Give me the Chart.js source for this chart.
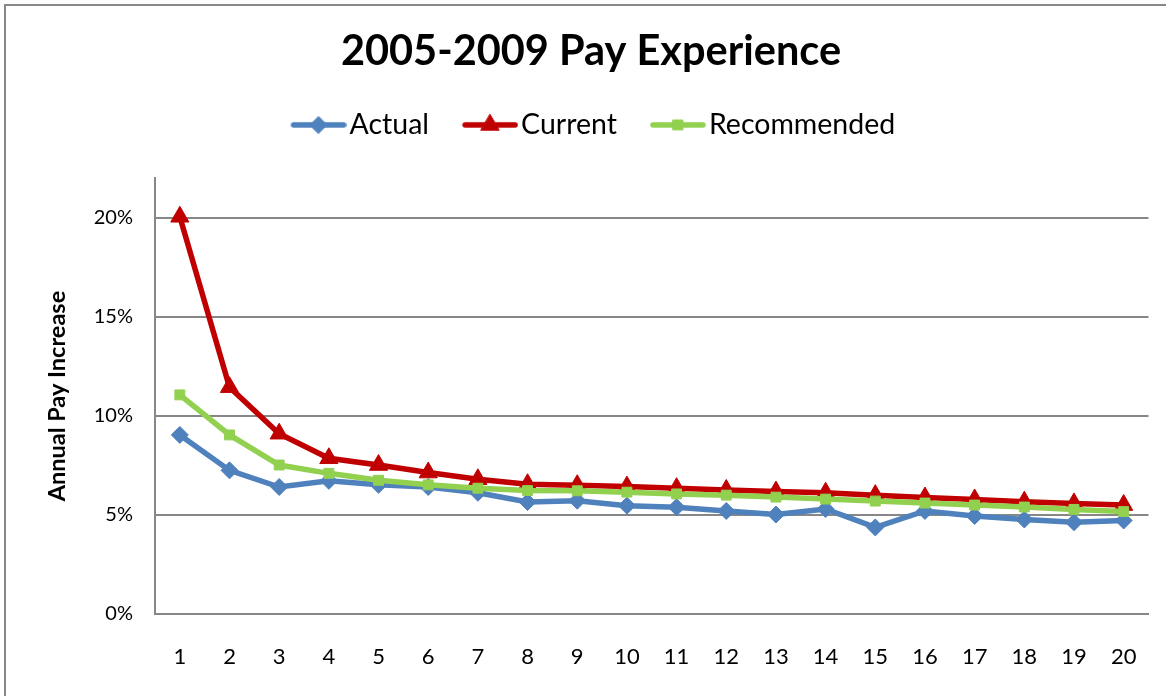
<!DOCTYPE html>
<html>
<head>
<meta charset="utf-8">
<title>2005-2009 Pay Experience</title>
<script src="https://cdn.jsdelivr.net/npm/chart.js"></script>
<style>
  html, body { margin: 0; padding: 0; background: #fff; overflow: hidden; }
  #frame { position: absolute; left: 4px; top: 4px; width: 1200px; height: 800px; border: 2px solid #888; }
  #chart { position: absolute; left: 6px; top: 6px; }
</style>
</head>
<body>
<div id="frame"></div>
<canvas id="chart" width="1154" height="690"></canvas>
<script>
  const years = ['1','2','3','4','5','6','7','8','9','10','11','12','13','14','15','16','17','18','19','20'];
  const actual = [9.04, 7.25, 6.41, 6.72, 6.52, 6.41, 6.12, 5.65, 5.72, 5.47, 5.39, 5.2, 5.02, 5.3, 4.37, 5.2, 4.95, 4.77, 4.63, 4.72];
  const current = [20.05, 11.45, 9.1, 7.86, 7.52, 7.14, 6.8, 6.55, 6.5, 6.43, 6.35, 6.26, 6.18, 6.12, 6.0, 5.88, 5.78, 5.67, 5.58, 5.5];
  const recommended = [11.06, 9.04, 7.52, 7.1, 6.75, 6.52, 6.35, 6.23, 6.22, 6.15, 6.06, 6.0, 5.9, 5.8, 5.7, 5.6, 5.5, 5.4, 5.28, 5.17];
  const yTicks = [0, 5, 10, 15, 20];

  const BLUE = '#4F81BD', RED = '#C00000', GREEN = '#92D050', GRID = '#878787';
  const FONT = 'Lato';

  // legend sample: line with the marker in the middle, left margin gives the gap between items
  function legendIcon(color, style, radius, bw) {
    const c = document.createElement('canvas');
    c.width = 71; c.height = 26;
    const g = c.getContext('2d');
    g.strokeStyle = color; g.lineWidth = 5.5; g.lineCap = 'round';
    g.beginPath(); g.moveTo(18, 13); g.lineTo(68, 13); g.stroke();
    g.fillStyle = color; g.strokeStyle = color; g.lineWidth = bw;
    if (Chart.helpers && Chart.helpers.drawPoint) {
      Chart.helpers.drawPoint(g, {pointStyle: style, radius: radius, borderWidth: bw, rotation: 0}, 43, 13);
    }
    return c;
  }

  const legendGap = {
    id: 'legendGap',
    afterInit(chart) {
      const fit = chart.legend.fit;
      chart.legend.fit = function () { fit.call(this); this.height += 29; };
    }
  };

  const icons = [];

  const chart = new Chart(document.getElementById('chart'), {
    type: 'line',
    data: {
      labels: years,
      datasets: [
        { label: 'Actual', data: actual, borderColor: BLUE, backgroundColor: BLUE, borderWidth: 5.5,
          pointStyle: 'rectRot', pointRadius: 8.5, pointBorderWidth: 1, order: 3 },
        { label: 'Current', data: current, borderColor: RED, backgroundColor: RED, borderWidth: 5.5,
          pointStyle: 'triangle', pointRadius: 10.5, pointBorderWidth: 1, order: 2 },
        { label: 'Recommended', data: recommended, borderColor: GREEN, backgroundColor: GREEN, borderWidth: 5.5,
          pointStyle: 'rect', pointRadius: 7, pointBorderWidth: 1, order: 1 }
      ]
    },
    options: {
      responsive: false,
      animation: false,
      devicePixelRatio: 1,
      layout: { padding: { left: 16, right: 0, top: 0, bottom: 0 } },
      plugins: {
        tooltip: { enabled: false },
        title: {
          display: true,
          text: '2005-2009 Pay Experience',
          color: '#000',
          font: { family: FONT, size: 41.5, weight: 'bold' },
          padding: { top: 21, bottom: 4.6 }
        },
        legend: {
          display: true,
          position: 'top',
          labels: {
            color: '#000',
            font: { family: FONT, size: 28.5 },
            usePointStyle: true,
            pointStyleWidth: 48.5,
            padding: 29.25,
            sort: (a, b) => a.datasetIndex - b.datasetIndex,
            generateLabels(chart) {
              const items = Chart.defaults.plugins.legend.labels.generateLabels(chart);
              items.forEach(it => { it.pointStyle = icons[it.datasetIndex]; });
              return items;
            }
          }
        }
      },
      scales: {
        x: {
          offset: true,
          grid: { display: false, drawTicks: true, tickLength: 30 },
          border: { display: true, color: GRID, width: 2 },
          ticks: { color: '#000', font: { family: FONT, size: 22 }, padding: 0, maxRotation: 0, autoSkip: false },
          afterFit(scale) { scale.height = 82; }
        },
        y: {
          min: 0,
          max: 22,
          grid: { color: GRID, lineWidth: 2, drawTicks: false },
          border: { display: true, color: GRID, width: 2 },
          ticks: { stepSize: 5, color: '#000', font: { family: FONT, size: 20 }, padding: 22,
                   callback: v => v + '%' },
          afterBuildTicks(scale) { scale.ticks = yTicks.map(v => ({ value: v })); },
          title: { display: true, text: 'Annual Pay Increase', color: '#000',
                   font: { family: FONT, size: 23.5, weight: 'bold' }, padding: { top: 21, bottom: 0 } },
          afterFit(scale) { scale.width = 133; }
        }
      }
    },
    plugins: [legendGap]
  });

  icons.push(legendIcon(BLUE, 'rectRot', 8.5, 1), legendIcon(RED, 'triangle', 10.5, 1), legendIcon(GREEN, 'rect', 7, 1));
  chart.update();
</script>
</body>
</html>
